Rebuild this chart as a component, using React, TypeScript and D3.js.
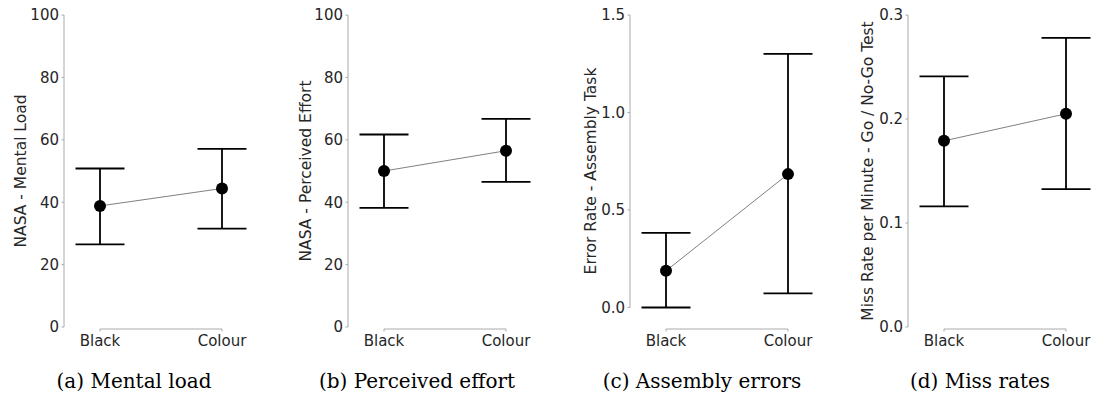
import React from "react";
import * as d3 from "d3";

const groups = ["Black", "Colour"];

// (a) NASA mental load
const mentalMean = [38.8, 44.4];
const mentalLow = [26.5, 31.5];
const mentalHigh = [50.8, 57.1];

// (b) NASA perceived effort
const effortMean = [50.0, 56.5];
const effortLow = [38.2, 46.5];
const effortHigh = [61.7, 66.7];

// (c) assembly error rate
const errorMean = [0.188, 0.684];
const errorLow = [0.0, 0.072];
const errorHigh = [0.383, 1.301];

// (d) go / no-go miss rate
const missMean = [0.179, 0.205];
const missLow = [0.116, 0.1325];
const missHigh = [0.241, 0.278];

const nasaTicks = [0, 20, 40, 60, 80, 100];
const errorTicks = [0, 0.5, 1.0, 1.5];
const missTicks = [0, 0.1, 0.2, 0.3];

const panels = [
  {
    left: 64, ylabelX: 20, domain: [0, 100], ticks: nasaTicks, fmt: d3.format("d"),
    ylabel: "NASA - Mental Load", caption: "(a) Mental load", captionX: 134,
    mean: mentalMean, low: mentalLow, high: mentalHigh,
  },
  {
    left: 348, ylabelX: 305, domain: [0, 100], ticks: nasaTicks, fmt: d3.format("d"),
    ylabel: "NASA - Perceived Effort", caption: "(b) Perceived effort", captionX: 417,
    mean: effortMean, low: effortLow, high: effortHigh,
  },
  {
    left: 630, ylabelX: 590, domain: [-0.1, 1.5], ticks: errorTicks, fmt: d3.format(".1f"),
    ylabel: "Error Rate - Assembly Task", caption: "(c) Assembly errors", captionX: 702,
    mean: errorMean, low: errorLow, high: errorHigh,
  },
  {
    left: 908, ylabelX: 867, domain: [0, 0.3], ticks: missTicks, fmt: d3.format(".1f"),
    ylabel: "Miss Rate per Minute - Go / No-Go Test", caption: "(d) Miss rates", captionX: 980,
    mean: missMean, low: missLow, high: missHigh,
  },
];

const top = 15;
const bottom = 327;
const xAxisY = 329;
const capHalf = 24.5;
const textColor = "#262626";
const spineColor = "#aaaaaa";
const sans = "'DejaVu Sans', sans-serif";

function Panel({ p }) {
  const x = d3.scalePoint().domain(groups).range([p.left + 36, p.left + 158]);
  const y = d3.scaleLinear().domain(p.domain).range([bottom, top]);
  const tickTop = y(p.ticks[p.ticks.length - 1]);
  const tickBottom = y(p.ticks[0]);
  const line = d3
    .line()
    .x((d) => x(d[0]))
    .y((d) => y(d[1]));
  const pts = groups.map((g, i) => [g, p.mean[i]]);

  return (
    <g>
      {/* y spine, trimmed to ticks */}
      <line x1={p.left} x2={p.left} y1={tickTop} y2={tickBottom} stroke={spineColor} strokeWidth={1} />
      {p.ticks.map((t) => (
        <g key={t}>
          <line x1={p.left - 2.5} x2={p.left} y1={y(t)} y2={y(t)} stroke={spineColor} strokeWidth={1} />
          <text
            x={p.left - 5}
            y={y(t)}
            dy="0.36em"
            textAnchor="end"
            fontFamily={sans}
            fontSize={15}
            fill={textColor}
          >
            {p.fmt(t)}
          </text>
        </g>
      ))}
      <text
        transform={`translate(${p.ylabelX},171) rotate(-90)`}
        textAnchor="middle"
        dy="0.36em"
        fontFamily={sans}
        fontSize={15.5}
        fill={textColor}
      >
        {p.ylabel}
      </text>

      {/* x spine, offset and trimmed */}
      <line x1={x(groups[0])} x2={x(groups[1])} y1={xAxisY} y2={xAxisY} stroke={spineColor} strokeWidth={1} />
      {groups.map((g) => (
        <g key={g}>
          <line x1={x(g)} x2={x(g)} y1={xAxisY} y2={xAxisY + 2.5} stroke={spineColor} strokeWidth={1} />
          <text x={x(g)} y={346} textAnchor="middle" fontFamily={sans} fontSize={15} fill={textColor}>
            {g}
          </text>
        </g>
      ))}

      {/* connecting line */}
      <path d={line(pts)} fill="none" stroke="#808080" strokeWidth={1} />

      {/* error bars */}
      {groups.map((g, i) => (
        <g key={g} stroke="#000" strokeWidth={1.8}>
          <line x1={x(g)} x2={x(g)} y1={y(p.low[i])} y2={y(p.high[i])} />
          <line x1={x(g) - capHalf} x2={x(g) + capHalf} y1={y(p.high[i])} y2={y(p.high[i])} />
          <line x1={x(g) - capHalf} x2={x(g) + capHalf} y1={y(p.low[i])} y2={y(p.low[i])} />
        </g>
      ))}
      {groups.map((g, i) => (
        <circle key={g} cx={x(g)} cy={y(p.mean[i])} r={6} fill="#000" />
      ))}

      <text
        x={p.captionX}
        y={388}
        textAnchor="middle"
        fontFamily="'DejaVu Serif', serif"
        fontSize={20}
        fill="#000"
      >
        {p.caption}
      </text>
    </g>
  );
}

export default function App() {
  return (
    <svg
      width={1093}
      height={397}
      style={{ position: "absolute", left: 0, top: 0, background: "#fff" }}
    >
      {panels.map((p) => (
        <Panel key={p.caption} p={p} />
      ))}
    </svg>
  );
}
